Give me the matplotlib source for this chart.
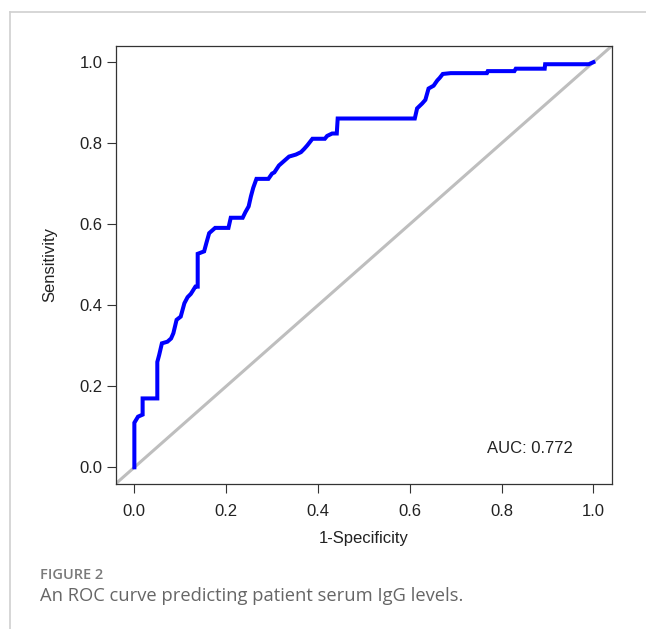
import matplotlib
matplotlib.use("Agg")
import matplotlib.pyplot as plt
from matplotlib.lines import Line2D

# ROC curve (1-specificity, sensitivity)
fpr = [0, 0, 0.008, 0.018, 0.018, 0.05, 0.05, 0.054, 0.06, 0.072, 0.08, 0.085,
       0.092, 0.101, 0.109, 0.116, 0.123, 0.133, 0.138, 0.138, 0.152, 0.157,
       0.163, 0.176, 0.205, 0.21, 0.236, 0.242, 0.249, 0.254, 0.259, 0.266,
       0.292, 0.3, 0.305, 0.315, 0.326, 0.337, 0.352, 0.363, 0.37, 0.377,
       0.388, 0.415, 0.42, 0.431, 0.441, 0.443, 0.611, 0.616, 0.627, 0.634,
       0.641, 0.652, 0.66, 0.665, 0.672, 0.689, 0.768, 0.77, 0.828, 0.831,
       0.894, 0.895, 0.99, 1.0]
tpr = [0, 0.11, 0.125, 0.13, 0.17, 0.17, 0.26, 0.277, 0.306, 0.31, 0.318, 0.331,
       0.364, 0.372, 0.405, 0.42, 0.428, 0.446, 0.446, 0.527, 0.533, 0.554,
       0.578, 0.591, 0.591, 0.616, 0.616, 0.63, 0.644, 0.669, 0.69, 0.712,
       0.712, 0.725, 0.728, 0.745, 0.756, 0.767, 0.772, 0.778, 0.786, 0.795,
       0.811, 0.811, 0.818, 0.824, 0.824, 0.861, 0.861, 0.886, 0.898, 0.907,
       0.935, 0.942, 0.955, 0.961, 0.971, 0.973, 0.973, 0.978, 0.978, 0.984,
       0.984, 0.995, 0.995, 1.0]
auc = 0.772
ticks = [0.0, 0.2, 0.4, 0.6, 0.8, 1.0]
tick_labels = ["0.0", "0.2", "0.4", "0.6", "0.8", "1.0"]

plt.rcParams['font.family'] = ['Liberation Sans', 'DejaVu Sans']

W, H = 646, 629
fig = plt.figure(figsize=(W / 100, H / 100), dpi=100)
ax = fig.add_axes([116 / W, 1 - 483.5 / H, (611.7 - 116) / W, (483.5 - 46) / H])

ax.axline((0, 0), (1, 1), color='#bebebe', lw=2.2, zorder=1)
ax.plot(fpr, tpr, color='#0000ff', lw=2.9, zorder=2, solid_joinstyle='miter')

ax.set_xlim(-0.04, 1.04)
ax.set_ylim(-0.04, 1.04)
ax.set_xticks(ticks)
ax.set_xticklabels(tick_labels)
ax.set_yticks(ticks)
ax.set_yticklabels(tick_labels)
ax.tick_params(direction='out', length=6.5, width=0.8, colors='#333333',
               labelsize=12, labelcolor='#222222')
ax.tick_params(axis='x', pad=8)
ax.tick_params(axis='y', pad=3)
for s in ax.spines.values():
    s.set_linewidth(0.9)
    s.set_color('#333333')

ax.set_xlabel('1-Specificity', fontsize=12, color='#222222', labelpad=9)
ax.set_ylabel('Sensitivity', fontsize=12, color='#222222', labelpad=16)
ax.text(0.862, 0.046, 'AUC: %.3f' % auc, fontsize=12, color='#222222',
        ha='center', va='center')

# page frame and caption
fig.add_artist(Line2D([9.5 / W, 9.5 / W], [0, 1 - 11.5 / H], color='#d0d0d0', lw=1.2))
fig.add_artist(Line2D([9.5 / W, 1], [1 - 11.5 / H, 1 - 11.5 / H], color='#d0d0d0', lw=1.2))
fig.text(40 / W, 1 - 575 / H, 'FIGURE 2', fontsize=10.5, family='Open Sans',
         fontweight='semibold', color='#7a7a7a', va='center')
fig.text(40 / W, 1 - 596 / H, 'An ROC curve predicting patient serum IgG levels.',
         fontsize=13.2, family='Open Sans', color='#666666', va='center')

fig.savefig('out.png', dpi=100)
